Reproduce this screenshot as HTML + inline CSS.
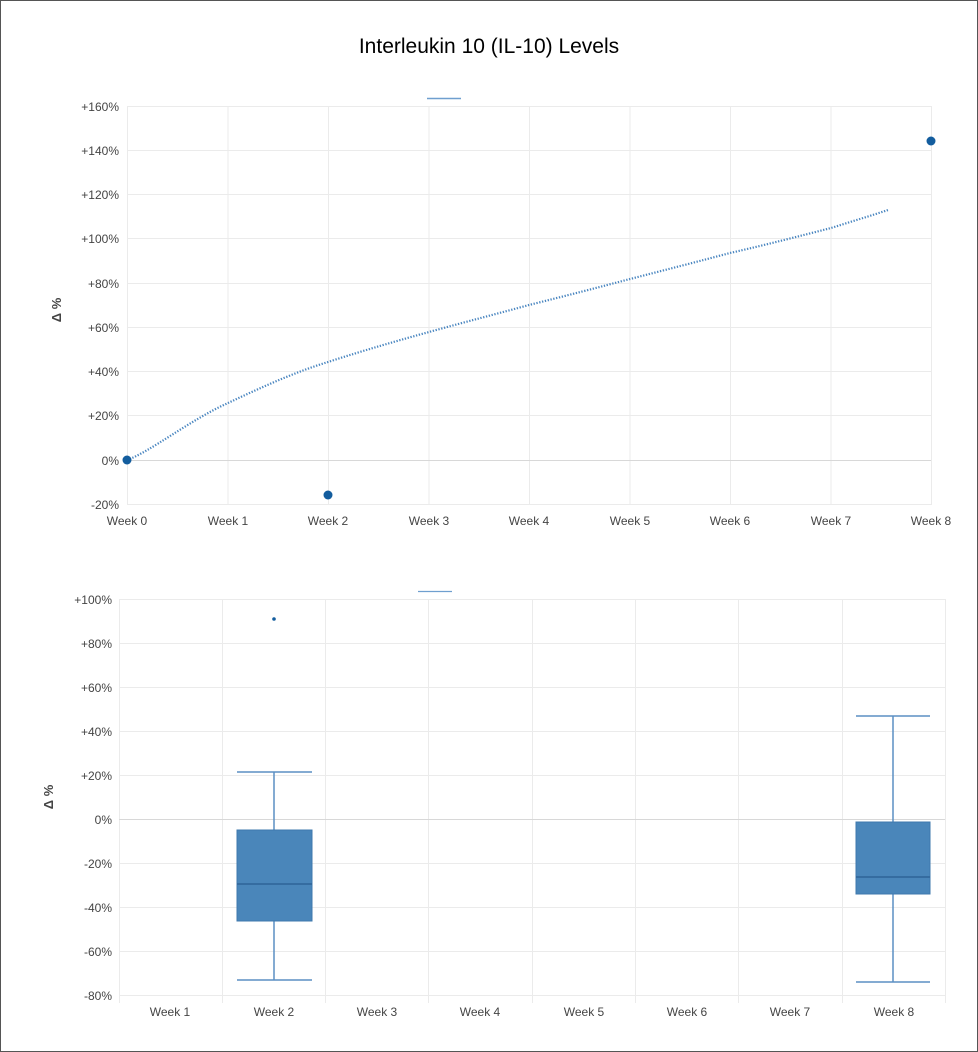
<!DOCTYPE html>
<html><head><meta charset="utf-8"><style>
html,body{margin:0;padding:0;background:#fff;}
svg{display:block;font-family:"Liberation Sans",Arial,sans-serif;}
</style></head><body>
<svg width="978" height="1052" viewBox="0 0 978 1052">
<rect x="0.5" y="0.5" width="977" height="1051" fill="#fff" stroke="#555" stroke-width="1"/>
<text x="489" y="53" font-size="21" text-anchor="middle" fill="#000">Interleukin 10 (IL-10) Levels</text>

<!-- TOP CHART -->
<g stroke="#ebebeb" stroke-width="1">
<line x1="127" y1="106.5" x2="931" y2="106.5"/>
<line x1="127" y1="150.5" x2="931" y2="150.5"/>
<line x1="127" y1="194.5" x2="931" y2="194.5"/>
<line x1="127" y1="238.5" x2="931" y2="238.5"/>
<line x1="127" y1="283.5" x2="931" y2="283.5"/>
<line x1="127" y1="327.5" x2="931" y2="327.5"/>
<line x1="127" y1="371.5" x2="931" y2="371.5"/>
<line x1="127" y1="415.5" x2="931" y2="415.5"/>
<line x1="127" y1="504.5" x2="931" y2="504.5"/>
<line x1="127.5" y1="106" x2="127.5" y2="505"/>
<line x1="228" y1="106" x2="228" y2="505"/>
<line x1="328.5" y1="106" x2="328.5" y2="505"/>
<line x1="429" y1="106" x2="429" y2="505"/>
<line x1="529.5" y1="106" x2="529.5" y2="505"/>
<line x1="630" y1="106" x2="630" y2="505"/>
<line x1="730.5" y1="106" x2="730.5" y2="505"/>
<line x1="831" y1="106" x2="831" y2="505"/>
<line x1="931.5" y1="106" x2="931.5" y2="505"/>
</g>
<line x1="127" y1="460.5" x2="931" y2="460.5" stroke="#d8d8d8"/>
<line x1="427" y1="98.5" x2="461" y2="98.5" stroke="#6f9fcf" stroke-width="1.5"/>
<g font-size="12" fill="#444" text-anchor="end">
<text x="119" y="111">+160%</text>
<text x="119" y="155">+140%</text>
<text x="119" y="199">+120%</text>
<text x="119" y="243">+100%</text>
<text x="119" y="288">+80%</text>
<text x="119" y="332">+60%</text>
<text x="119" y="376">+40%</text>
<text x="119" y="420">+20%</text>
<text x="119" y="465">0%</text>
<text x="119" y="509">-20%</text>
</g>
<g font-size="12" fill="#444" text-anchor="middle">
<text x="127" y="525">Week 0</text>
<text x="228" y="525">Week 1</text>
<text x="328" y="525">Week 2</text>
<text x="429" y="525">Week 3</text>
<text x="529" y="525">Week 4</text>
<text x="630" y="525">Week 5</text>
<text x="730" y="525">Week 6</text>
<text x="831" y="525">Week 7</text>
<text x="931" y="525">Week 8</text>
</g>
<text transform="translate(61,310) rotate(-90)" font-size="13" font-weight="bold" fill="#444" text-anchor="middle">Δ %</text>
<path d="M127,460 C150,452 190,420 228,403 C260,388 295,372 328,362 C365,350 400,340 429,332 C465,322 500,313 529,305 C565,296 600,287 630,279 C665,270 700,261 730,253 C765,245 800,236 831,228 C850,222 870,216 888,210" fill="none" stroke="#4a86c0" stroke-width="2.2" stroke-dasharray="1.3 1.6"/>
<circle cx="127" cy="460" r="4.5" fill="#135d9e"/>
<circle cx="328" cy="495" r="4.5" fill="#135d9e"/>
<circle cx="931" cy="141" r="4.5" fill="#135d9e"/>

<!-- BOTTOM CHART -->
<g stroke="#ebebeb" stroke-width="1">
<line x1="119" y1="599.5" x2="945" y2="599.5"/>
<line x1="119" y1="643.5" x2="945" y2="643.5"/>
<line x1="119" y1="687.5" x2="945" y2="687.5"/>
<line x1="119" y1="731.5" x2="945" y2="731.5"/>
<line x1="119" y1="775.5" x2="945" y2="775.5"/>
<line x1="119" y1="863.5" x2="945" y2="863.5"/>
<line x1="119" y1="907.5" x2="945" y2="907.5"/>
<line x1="119" y1="951.5" x2="945" y2="951.5"/>
<line x1="119" y1="995.5" x2="945" y2="995.5"/>
<line x1="119.5" y1="599" x2="119.5" y2="1003"/>
<line x1="222.5" y1="599" x2="222.5" y2="1003"/>
<line x1="325.5" y1="599" x2="325.5" y2="1003"/>
<line x1="428.5" y1="599" x2="428.5" y2="1003"/>
<line x1="532.5" y1="599" x2="532.5" y2="1003"/>
<line x1="635.5" y1="599" x2="635.5" y2="1003"/>
<line x1="738.5" y1="599" x2="738.5" y2="1003"/>
<line x1="842.5" y1="599" x2="842.5" y2="1003"/>
<line x1="945.5" y1="599" x2="945.5" y2="1003"/>
</g>
<line x1="119" y1="819.5" x2="945" y2="819.5" stroke="#d8d8d8"/>
<line x1="418" y1="591.5" x2="452" y2="591.5" stroke="#6f9fcf" stroke-width="1.2"/>
<g font-size="12" fill="#444" text-anchor="end">
<text x="112" y="604">+100%</text>
<text x="112" y="648">+80%</text>
<text x="112" y="692">+60%</text>
<text x="112" y="736">+40%</text>
<text x="112" y="780">+20%</text>
<text x="112" y="824">0%</text>
<text x="112" y="868">-20%</text>
<text x="112" y="912">-40%</text>
<text x="112" y="956">-60%</text>
<text x="112" y="1000">-80%</text>
</g>
<g font-size="12" fill="#444" text-anchor="middle">
<text x="170" y="1016">Week 1</text>
<text x="274" y="1016">Week 2</text>
<text x="377" y="1016">Week 3</text>
<text x="480" y="1016">Week 4</text>
<text x="584" y="1016">Week 5</text>
<text x="687" y="1016">Week 6</text>
<text x="790" y="1016">Week 7</text>
<text x="894" y="1016">Week 8</text>
</g>
<text transform="translate(53,797) rotate(-90)" font-size="13" font-weight="bold" fill="#444" text-anchor="middle">Δ %</text>
<g stroke="#5b8fc4" stroke-width="1.5" fill="none">
<line x1="274" y1="772" x2="274" y2="980"/>
<line x1="237" y1="772" x2="312" y2="772"/>
<line x1="237" y1="980" x2="312" y2="980"/>
<line x1="893" y1="716" x2="893" y2="982"/>
<line x1="856" y1="716" x2="930" y2="716"/>
<line x1="856" y1="982" x2="930" y2="982"/>
</g>
<rect x="237" y="830" width="75" height="91" fill="#4a86ba" stroke="#3f78ad"/>
<line x1="237" y1="884" x2="312" y2="884" stroke="#2e6398" stroke-width="1.5"/>
<rect x="856" y="822" width="74" height="72" fill="#4a86ba" stroke="#3f78ad"/>
<line x1="856" y1="877" x2="930" y2="877" stroke="#2e6398" stroke-width="1.5"/>
<circle cx="274" cy="619" r="1.8" fill="#135d9e"/>
</svg>
</body></html>
